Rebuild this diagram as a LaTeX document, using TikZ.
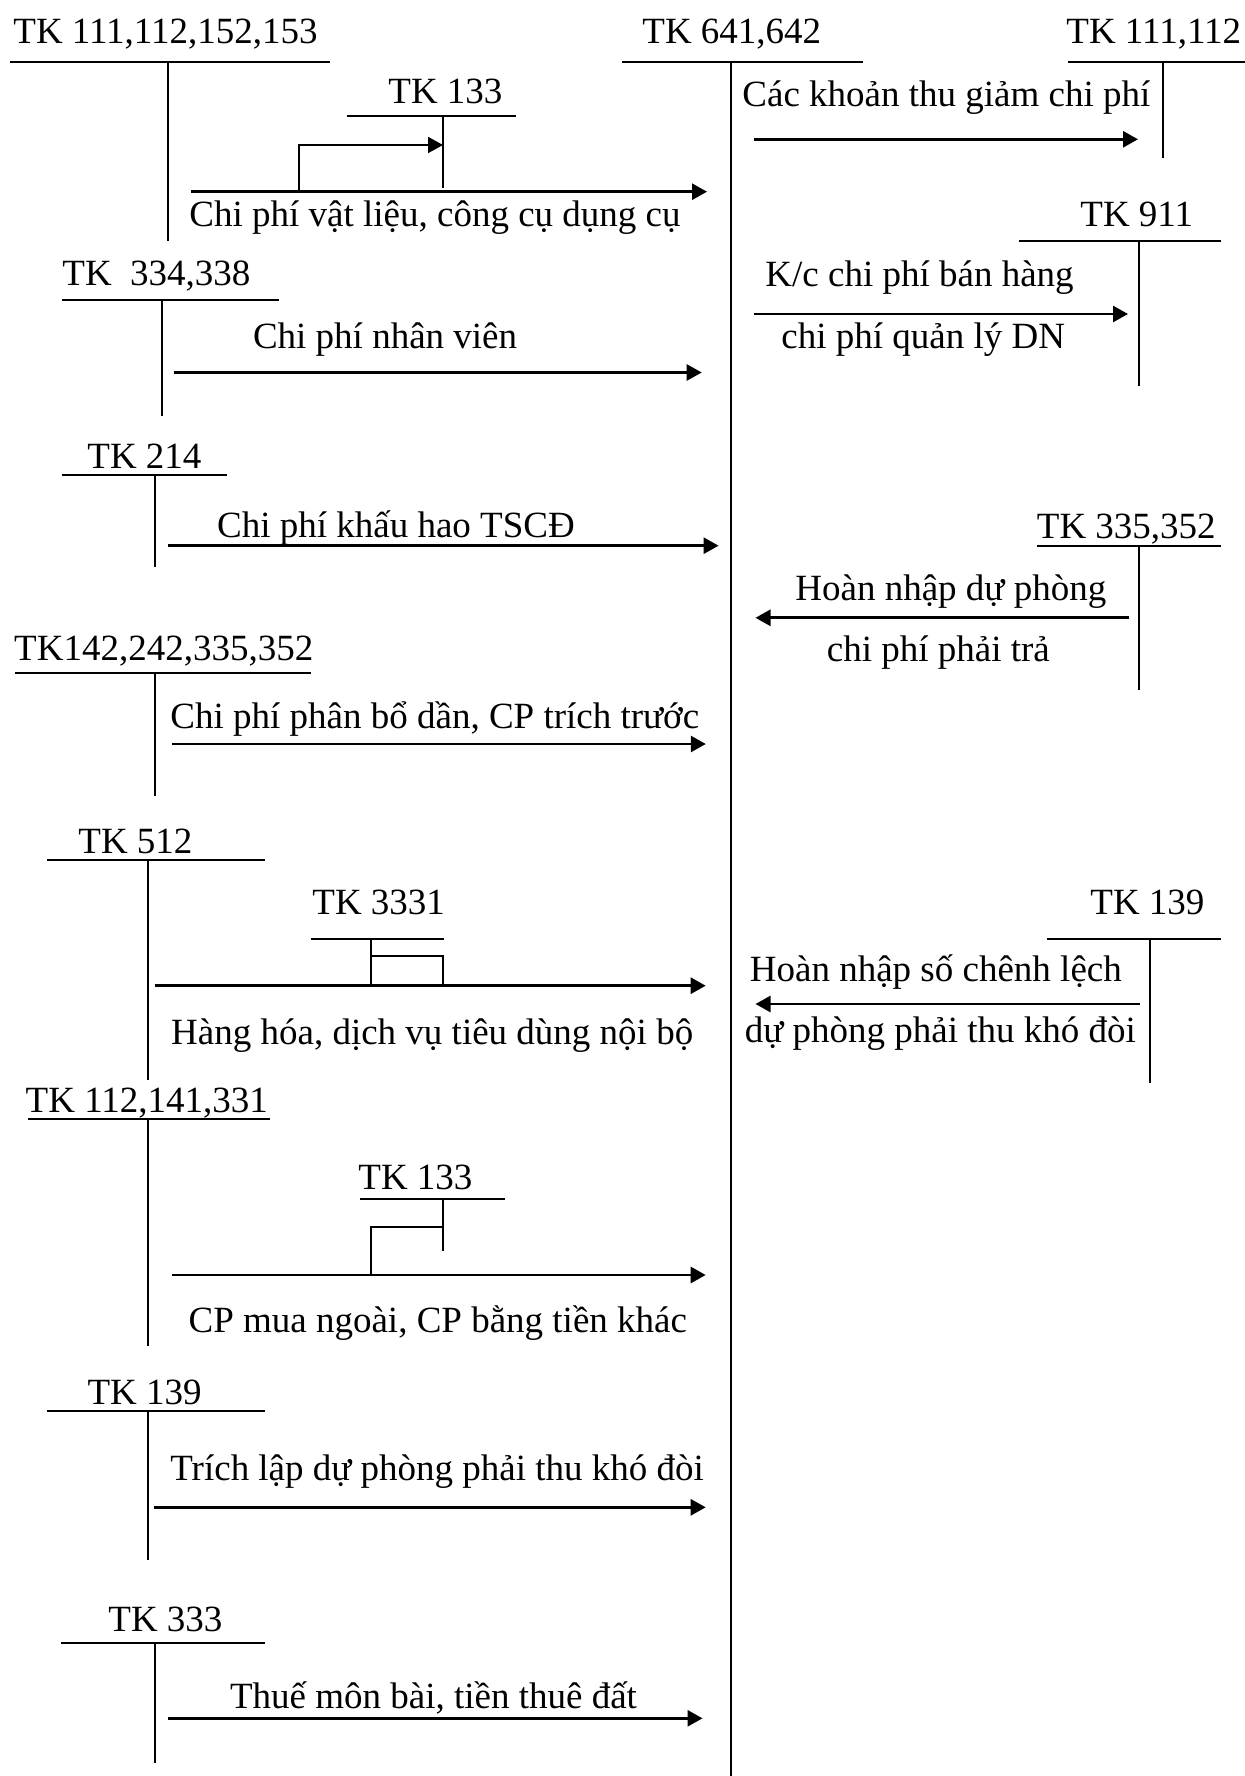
\documentclass[tikz,border=0pt]{standalone}
\usepackage{fontspec}
\setmainfont{Liberation Serif}
\usetikzlibrary{arrows.meta}
\begin{document}
\begin{tikzpicture}[x=0.5pt,y=-0.5pt,
  tline/.style={line width=1pt},
  flow/.style={line width=1.35pt,-{Triangle[length=7.5pt,width=8pt]}},
  plain/.style={line width=1pt},
  lbl/.style={anchor=base west,inner sep=0pt,font=\fontsize{18.5}{22}\selectfont},
]
\useasboundingbox (0,0) rectangle (1245,1776);

% ---------- labels ----------
\node[lbl] (tA) at (13,43.3) {TK 111,112,152,153};
\node[lbl] (tB) at (388,104) {TK 133};
\node[lbl] (xA) at (189,226.7) {Chi phí vật liệu, công cụ dụng cụ};
\node[lbl] (tC) at (642,43.3) {TK 641,642};
\node[lbl] (tD) at (1066,43.3) {TK 111,112};
\node[lbl] (xD) at (742,107) {Các khoản thu giảm chi phí};
\node[lbl] (tE) at (1080,226.7) {TK 911};
\node[lbl] (xE1) at (765,286.7) {K/c chi phí bán hàng};
\node[lbl] (xE2) at (781,348.3) {chi phí quản lý DN};
\node[lbl] (tF) at (62,285.7) {TK\ \ 334,338};
\node[lbl] (xF) at (252.6,348.2) {Chi phí nhân viên};
\node[lbl] (tG) at (87,468.6) {TK 214};
\node[lbl] (xG) at (216.7,537.5) {Chi phí khấu hao TSCĐ};
\node[lbl] (tH) at (1036.5,538.3) {TK 335,352};
\node[lbl] (xH1) at (795,600.8) {Hoàn nhập dự phòng};
\node[lbl] (xH2) at (826.5,661) {chi phí phải trả};
\node[lbl] (tI) at (13.8,660.7) {TK142,242,335,352};
\node[lbl] (xI) at (170,728.6) {Chi phí phân bổ dần, CP trích trước};
\node[lbl] (tJ) at (78,853.6) {TK 512};
\node[lbl] (tK) at (312,914.3) {TK 3331};
\node[lbl] (xJ) at (170.8,1044.6) {Hàng hóa, dịch vụ tiêu dùng nội bộ};
\node[lbl] (tL) at (1090,914.6) {TK 139};
\node[lbl] (xL1) at (749.5,981.6) {Hoàn nhập số chênh lệch};
\node[lbl] (xL2) at (744.4,1042.8) {dự phòng phải thu khó đòi};
\node[lbl] (tM) at (25.3,1112.5) {TK 112,141,331};
\node[lbl] (tN) at (358,1189.3) {TK 133};
\node[lbl] (xM) at (188.2,1332) {CP mua ngoài, CP bằng tiền khác};
\node[lbl] (tO) at (87.2,1404) {TK 139};
\node[lbl] (xO) at (170,1480) {Trích lập dự phòng phải thu khó đòi};
\node[lbl] (tP) at (108,1631.7) {TK 333};
\node[lbl] (xP) at (229.6,1708.3) {Thuế môn bài, tiền thuê đất};

% ---------- T accounts ----------
% TK 111,112,152,153
\coordinate (A1) at (10,61.7); \coordinate (A2) at (330,61.7);
\coordinate (A3) at (167.7,61.7); \coordinate (A4) at (167.7,240.7);
\draw[tline] (A1) -- (A2); \draw[tline] (A3) -- (A4);
% TK 133 (top)
\coordinate (B1) at (346.7,116); \coordinate (B2) at (515.7,116);
\coordinate (B3) at (443,116); \coordinate (B4) at (443,188.3);
\draw[tline] (B1) -- (B2); \draw[tline] (B3) -- (B4);
% TK 641,642
\coordinate (C1) at (622,61.7); \coordinate (C2) at (863,61.7);
\coordinate (C3) at (730.8,61.7); \coordinate (C4) at (730.8,1776);
\draw[tline] (C1) -- (C2); \draw[line width=1.2pt] (C3) -- (C4);
% TK 111,112
\coordinate (D1) at (1068,61.7); \coordinate (D2) at (1245,61.7);
\coordinate (D3) at (1163,61.7); \coordinate (D4) at (1163,158.3);
\draw[tline] (D1) -- (D2); \draw[tline] (D3) -- (D4);
% TK 911
\coordinate (E1) at (1018.6,240.7); \coordinate (E2) at (1221,240.7);
\coordinate (E3) at (1139.4,240.7); \coordinate (E4) at (1139.4,386);
\draw[tline] (E1) -- (E2); \draw[tline] (E3) -- (E4);
% TK 334,338
\coordinate (F1) at (62,300); \coordinate (F2) at (278.7,300);
\coordinate (F3) at (161.6,300); \coordinate (F4) at (161.6,416);
\draw[tline] (F1) -- (F2); \draw[tline] (F3) -- (F4);
% TK 214
\coordinate (G1) at (62,475); \coordinate (G2) at (227.3,475);
\coordinate (G3) at (154.8,475); \coordinate (G4) at (154.8,567);
\draw[tline] (G1) -- (G2); \draw[tline] (G3) -- (G4);
% TK 335,352
\coordinate (H1) at (1036.5,546.3); \coordinate (H2) at (1221,546.3);
\coordinate (H3) at (1139,546.3); \coordinate (H4) at (1139,690);
\draw[tline] (H1) -- (H2); \draw[tline] (H3) -- (H4);
% TK142,242,335,352
\coordinate (I1) at (14.7,673.2); \coordinate (I2) at (311.3,673.2);
\coordinate (I3) at (154.8,673.2); \coordinate (I4) at (154.8,796.4);
\draw[tline] (I1) -- (I2); \draw[tline] (I3) -- (I4);
% TK 512
\coordinate (J1) at (47.3,859.6); \coordinate (J2) at (265,859.6);
\coordinate (J3) at (148.3,859.6); \coordinate (J4) at (148.3,1080.4);
\draw[tline] (J1) -- (J2); \draw[tline] (J3) -- (J4);
% TK 3331
\coordinate (K1) at (310.8,939.3); \coordinate (K2) at (444,939.3);
\coordinate (K3) at (371,939.3); \coordinate (K4) at (371,985.7);
\draw[tline] (K1) -- (K2); \draw[tline] (K3) -- (K4);
% TK 139 (right)
\coordinate (L1) at (1047,939.2); \coordinate (L2) at (1221,939.2);
\coordinate (L3) at (1150,939.2); \coordinate (L4) at (1150,1083);
\draw[tline] (L1) -- (L2); \draw[tline] (L3) -- (L4);
% TK 112,141,331
\coordinate (M1) at (27.5,1119); \coordinate (M2) at (270,1119);
\coordinate (M3) at (148.3,1119); \coordinate (M4) at (148.3,1346.4);
\draw[tline] (M1) -- (M2); \draw[tline] (M3) -- (M4);
% TK 133 (lower)
\coordinate (N1) at (360.4,1199); \coordinate (N2) at (505,1199);
\coordinate (N3) at (443,1199); \coordinate (N4) at (443,1250.7);
\draw[tline] (N1) -- (N2); \draw[tline] (N3) -- (N4);
% TK 139 (left)
\coordinate (O1) at (47.3,1410.7); \coordinate (O2) at (265,1410.7);
\coordinate (O3) at (148.3,1410.7); \coordinate (O4) at (148.3,1560);
\draw[tline] (O1) -- (O2); \draw[tline] (O3) -- (O4);
% TK 333
\coordinate (P1) at (61,1643.3); \coordinate (P2) at (265,1643.3);
\coordinate (P3) at (154.7,1643.3); \coordinate (P4) at (154.7,1763.3);
\draw[tline] (P1) -- (P2); \draw[tline] (P3) -- (P4);

% ---------- flows ----------
\coordinate (a1s) at (190.6,191.7); \coordinate (a1e) at (707,191.7);
\draw[flow] (a1s) -- (a1e);
\coordinate (b1s) at (299,191.7); \coordinate (b1m) at (299,145); \coordinate (b1e) at (443,145);
\draw[plain,-{Triangle[length=7.5pt,width=8pt]}] (b1s) -- (b1m) -- (b1e);

\coordinate (a2s) at (754,139.3); \coordinate (a2e) at (1138,139.3);
\draw[flow] (a2s) -- (a2e);
\coordinate (a3s) at (754,314); \coordinate (a3e) at (1128,314);
\draw[flow] (a3s) -- (a3e);
\coordinate (a4s) at (173.6,372.5); \coordinate (a4e) at (701.7,372.5);
\draw[flow] (a4s) -- (a4e);
\coordinate (a5s) at (167.6,545.7); \coordinate (a5e) at (718.6,545.7);
\draw[flow] (a5s) -- (a5e);
\coordinate (a6s) at (1129.4,617.8); \coordinate (a6e) at (755.5,617.8);
\draw[flow] (a6s) -- (a6e);
\coordinate (a7s) at (172.2,744); \coordinate (a7e) at (705.8,744);
\draw[flow] (a7s) -- (a7e);
\coordinate (a8s) at (154.7,985.7); \coordinate (a8e) at (705.7,985.7);
\draw[flow] (a8s) -- (a8e);
\coordinate (b8s) at (371,956.4); \coordinate (b8m) at (443,956.4); \coordinate (b8e) at (443,985.7);
\draw[plain] (b8s) -- (b8m) -- (b8e);
\coordinate (a9s) at (1140,1004); \coordinate (a9e) at (755.5,1004);
\draw[flow] (a9s) -- (a9e);
\coordinate (a10s) at (172.2,1275); \coordinate (a10e) at (705.7,1275);
\draw[flow] (a10s) -- (a10e);
\coordinate (b10s) at (371,1275); \coordinate (b10m) at (371,1226.8); \coordinate (b10e) at (443,1226.8);
\draw[plain] (b10s) -- (b10m) -- (b10e);
\coordinate (a11s) at (153.8,1507.3); \coordinate (a11e) at (705.7,1507.3);
\draw[flow] (a11s) -- (a11e);
\coordinate (a12s) at (167.6,1718.3); \coordinate (a12e) at (702.5,1718.3);
\draw[flow] (a12s) -- (a12e);
\end{tikzpicture}
\end{document}
